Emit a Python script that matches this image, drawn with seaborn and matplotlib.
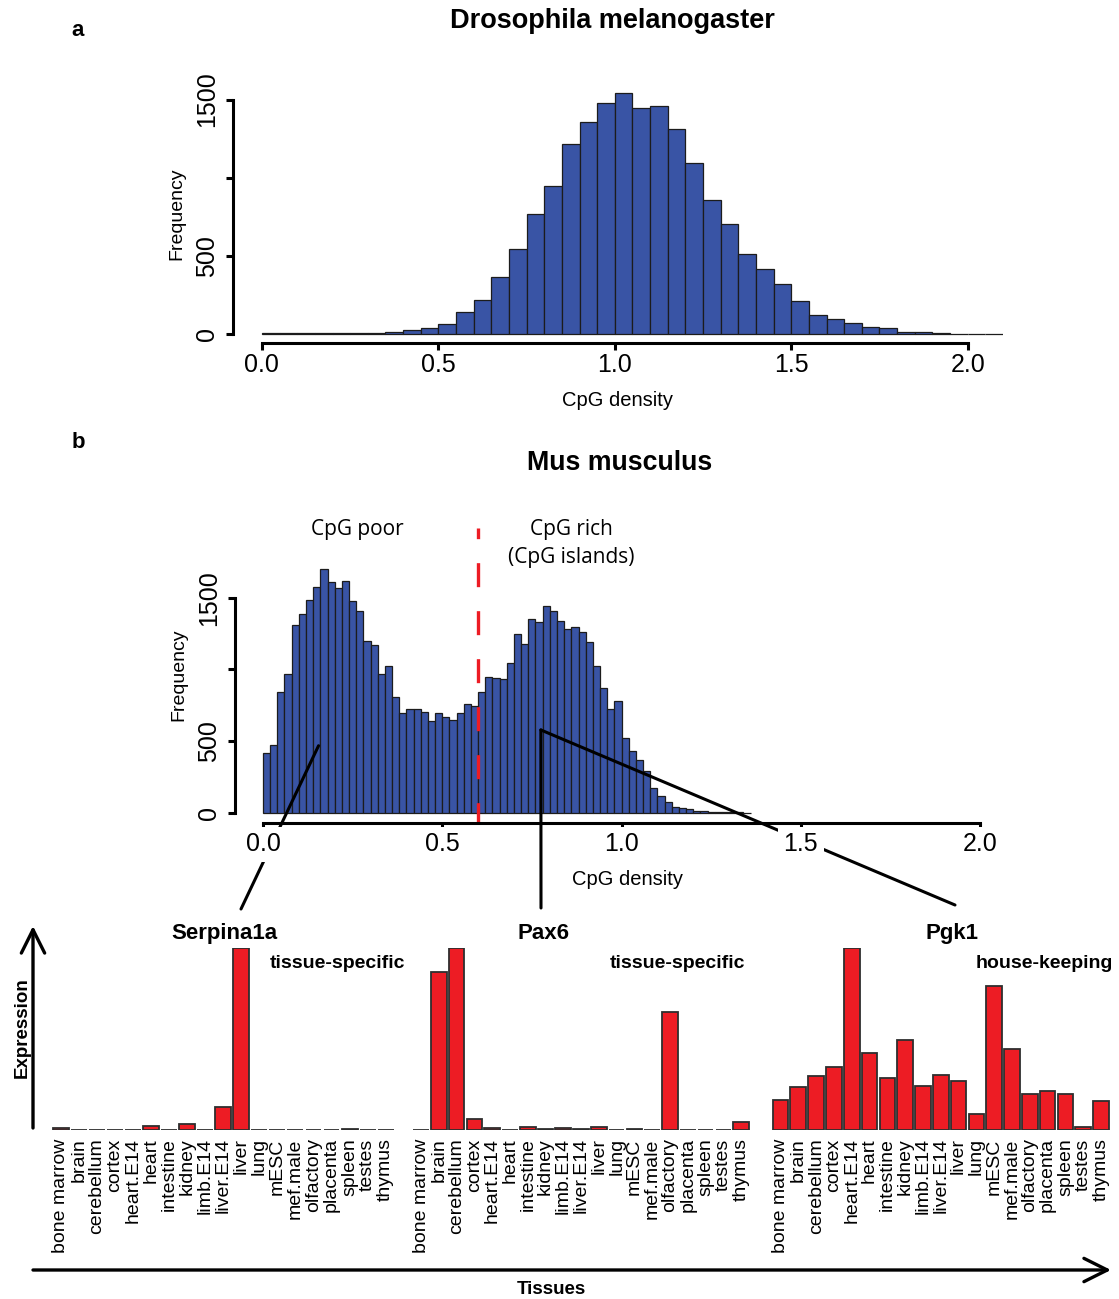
import numpy as np
import pandas as pd
import matplotlib
matplotlib.use("Agg")
import matplotlib.pyplot as plt
import seaborn as sns
from matplotlib.patches import ConnectionPatch, FancyArrowPatch

# ---- data -----------------------------------------------------------------
# Promoter CpG density, Drosophila melanogaster (bins of 0.05 starting at 0)
dm_counts = [3, 3, 4, 5, 5, 7, 8, 12, 25, 37,
             66, 138, 215, 366, 543, 770, 945, 1217, 1356, 1477,
             1541, 1447, 1458, 1311, 1092, 858, 702, 513, 417, 321,
             213, 121, 96, 70, 45, 38, 12, 12, 8, 2,
             2, 1]
dm_bin_width = 0.05

# Promoter CpG density, Mus musculus (bins of 0.02 starting at 0)
mm_counts = [419, 470, 844, 965, 1307, 1384, 1484, 1575, 1698, 1612,
             1565, 1617, 1479, 1407, 1198, 1170, 968, 1023, 809, 693,
             726, 721, 700, 642, 693, 668, 644, 693, 758, 747,
             842, 949, 937, 933, 1047, 1249, 1177, 1349, 1328, 1440,
             1410, 1335, 1284, 1293, 1261, 1193, 1023, 872, 721, 777,
             519, 428, 365, 291, 170, 116, 74, 42, 30, 23,
             14, 10, 7, 5, 3, 2, 2, 1]
mm_bin_width = 0.02
cpg_threshold = 0.6

# Relative expression across tissues
tissues = ["bone marrow", "brain", "cerebellum", "cortex", "heart.E14", "heart",
           "intestine", "kidney", "limb.E14", "liver.E14", "liver", "lung",
           "mESC", "mef.male", "olfactory", "placenta", "spleen", "testes", "thymus"]
serpina1a = [1.3, 0, 0, 0, 0, 2.0, 0, 3.1, 0, 12.9, 100, 0, 0, 0, 0, 0, 0.3, 0, 0]
pax6 = [0, 87, 100, 6.3, 0.9, 0, 1.5, 0.7, 1.1, 0.7, 1.5, 0, 0.7, 0.2, 65, 0, 0, 0, 4.4]
pgk1 = [16.5, 23.5, 29.5, 34.9, 100, 42.6, 28.8, 49.4, 24.4, 30.1, 27.2, 8.6,
        79.3, 44.4, 19.8, 21.7, 20.0, 1.7, 16.1]

# gene of interest -> CpG density / histogram height of its promoter marker
genes = ["Serpina1a", "Pax6", "Pgk1"]
gene_classes = ["tissue-specific", "tissue-specific", "house-keeping"]
gene_markers = [(0.155, 467), (0.775, 577), (0.775, 577)]

# ---- style ----------------------------------------------------------------
sns.set_style("ticks")
plt.rcParams["font.family"] = ["Liberation Sans", "DejaVu Sans"]
plt.rcParams["axes.edgecolor"] = "black"
plt.rcParams["axes.labelcolor"] = "black"
plt.rcParams["xtick.color"] = "black"
plt.rcParams["ytick.color"] = "black"
plt.rcParams["text.color"] = "black"

BLUE = "#3954a5"
BAR_EDGE = "#1c1c1c"
RED = "#ed1c24"
RED_EDGE = "#2e2e2e"

W, H = 1119, 1299
fig = plt.figure(figsize=(W / 100, H / 100), dpi=100)


def box(l, t, r, b):
    return [l / W, 1 - b / H, (r - l) / W, (b - t) / H]


def fpt(x, y):
    return x / W, 1 - y / H


def style_hist(ax, xlim, ylim):
    ax.set_xlim(*xlim)
    ax.set_ylim(*ylim)
    ax.set_facecolor("none")
    for s in ("top", "right"):
        ax.spines[s].set_visible(False)
    ax.spines["left"].set_bounds(0, 1500)
    ax.spines["bottom"].set_bounds(0, 2)
    for s in ("left", "bottom"):
        ax.spines[s].set_linewidth(2.2)
    ax.set_xticks([0, 0.5, 1.0, 1.5, 2.0])
    ax.set_xticklabels(["0.0", "0.5", "1.0", "1.5", "2.0"], fontsize=18)
    ax.set_yticks([0, 500, 1000, 1500])
    ax.set_yticklabels(["0", "500", "", "1500"], fontsize=18, rotation=90, va="center")
    ax.tick_params(axis="both", length=5, width=2.2)
    ax.tick_params(axis="x", pad=2)
    ax.tick_params(axis="y", pad=5)
    ax.set_xlabel("CpG density", fontsize=14.5, labelpad=10)
    ax.set_ylabel("Frequency", fontsize=14, labelpad=7)


def draw_hist(ax, counts, width):
    edges = [i * width for i in range(len(counts) + 1)]
    df = pd.DataFrame({"density": [(a + b) / 2 for a, b in zip(edges[:-1], edges[1:])],
                       "n": counts})
    sns.histplot(data=df, x="density", weights="n", bins=edges, ax=ax, color=BLUE,
                 edgecolor=BAR_EDGE, linewidth=0.9, alpha=1)


# ---- panel a --------------------------------------------------------------
ax_dm = fig.add_axes(box(233, 84, 1003, 343))
draw_hist(ax_dm, dm_counts, dm_bin_width)
style_hist(ax_dm, (-0.082, 2.1), (-58, 1600))

# ---- panel b --------------------------------------------------------------
ax_mm = fig.add_axes(box(235, 526, 1021, 822.7))
draw_hist(ax_mm, mm_counts, mm_bin_width)
style_hist(ax_mm, (-0.078, 2.114), (-70, 2000))
ax_mm.plot([cpg_threshold, cpg_threshold], [1987, -65], color=RED, lw=2.4,
           linestyle=(4.0, (7.2, 7.2)), clip_on=False, zorder=1.4)
ax_mm.xaxis.set_zorder(3)
for lab in ax_mm.get_xticklabels():
    lab.set_bbox(dict(facecolor="white", edgecolor="none", pad=4))

# ---- expression bar charts -----------------------------------------------
bar_boxes = [box(51.8, 948.3, 394.7, 1130), box(412.2, 948.3, 750, 1130),
             box(771.6, 948.3, 1110, 1130)]
title_x = [0.502, 0.39, 0.533]
class_x = [0.833, 0.784, 0.805]
line_ends = [(241, 909), (541, 908), (955, 905)]
for vals, rect, gene, gcls, tx, cx, marker, end in zip(
        [serpina1a, pax6, pgk1], bar_boxes, genes, gene_classes,
        title_x, class_x, gene_markers, line_ends):
    ax = fig.add_axes(rect)
    sns.barplot(x=tissues, y=vals, ax=ax, color=RED, saturation=1, width=0.88,
                edgecolor=RED_EDGE, linewidth=1.3)
    ax.set_xlim(-0.5, 18.5)
    ax.set_ylim(0, 100)
    ax.set_facecolor("none")
    for s in ax.spines.values():
        s.set_visible(False)
    ax.set_yticks([])
    ax.set_xticks(range(len(tissues)))
    ax.set_xticklabels(tissues, rotation=90, fontsize=14)
    ax.tick_params(axis="x", length=0, pad=6)
    ax.set_xlabel("")
    ax.set_ylabel("")
    ax.text(tx, 1.084, gene, transform=ax.transAxes, ha="center", va="center",
            fontsize=16, fontweight="bold")
    ax.text(cx, 0.919, gcls, transform=ax.transAxes, ha="center", va="center",
            fontsize=14, fontweight="bold")
    con = ConnectionPatch(xyA=marker, coordsA=ax_mm.transData,
                          xyB=fpt(*end), coordsB="figure fraction",
                          color="black", lw=2.2, zorder=1.3)
    ax_mm.add_artist(con)

# ---- titles, annotations, arrows -----------------------------------------
fig.text(*fpt(612, 21), "Drosophila melanogaster", ha="center", va="center",
         fontsize=19.5, fontweight="bold")
fig.text(*fpt(620, 463), "Mus musculus", ha="center", va="center",
         fontsize=19.3, fontweight="bold")
fig.text(*fpt(78, 30), "a", ha="center", va="center", fontsize=16, fontweight="bold")
fig.text(*fpt(78, 443), "b", ha="center", va="center", fontsize=16, fontweight="bold")

fig.text(*fpt(357, 529), "CpG poor", ha="center", va="center", fontsize=15,
         family=["Open Sans", "DejaVu Sans"])
fig.text(*fpt(571, 529), "CpG rich", ha="center", va="center", fontsize=15,
         family=["Open Sans", "DejaVu Sans"])
fig.text(*fpt(571, 558), "(CpG islands)", ha="center", va="center", fontsize=15,
         family=["Open Sans", "DejaVu Sans"])

arrow_kw = dict(arrowstyle="->,head_length=0.6,head_width=0.3", lw=2.4,
                color="black", mutation_scale=28, shrinkA=0, shrinkB=0)
fig.add_artist(FancyArrowPatch(fpt(33, 1128), fpt(33, 926),
                               transform=fig.transFigure, **arrow_kw))
fig.add_artist(FancyArrowPatch(fpt(33, 1270), fpt(1111, 1270),
                               transform=fig.transFigure, **arrow_kw))
fig.text(*fpt(22, 1028), "Expression", rotation=90, ha="center", va="center",
         fontsize=13.5, fontweight="bold")
fig.text(*fpt(551, 1290), "Tissues", ha="center", va="center",
         fontsize=13.5, fontweight="bold")

fig.savefig("out.png", dpi=100)
